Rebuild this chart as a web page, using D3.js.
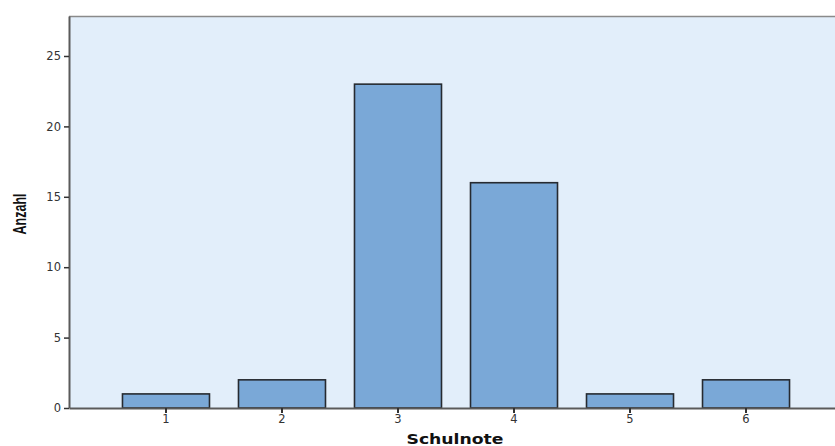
<!DOCTYPE html>
<html>
<head>
<meta charset="utf-8">
<script src="https://cdn.jsdelivr.net/npm/d3@7"></script>
<style>
  html, body { margin: 0; padding: 0; background: #fff; }
  svg { display: block; }
</style>
</head>
<body>
<svg id="chart" width="835" height="446"></svg>
<script>
// Häufigkeit der Schulnoten
const grades = ["1", "2", "3", "4", "5", "6"];
const counts = [1, 2, 23, 16, 1, 2];
const yTicks = [0, 5, 10, 15, 20, 25];

const svg = d3.select("#chart");
const plotLeft = 69, plotTop = 16, plotBottom = 408, plotRight = 843;

const x = d3.scaleBand()
  .domain(grades)
  .range([plotLeft, plotRight])
  .paddingInner(0.25)
  .paddingOuter(0.461);

const y = d3.scaleLinear()
  .domain([0, 27.84])
  .range([plotBottom, plotTop]);

// plot background
svg.append("rect")
  .attr("x", plotLeft).attr("y", plotTop)
  .attr("width", plotRight - plotLeft).attr("height", plotBottom - plotTop)
  .attr("fill", "#e2eefa");

// top frame line
svg.append("line")
  .attr("x1", plotLeft).attr("x2", plotRight)
  .attr("y1", plotTop + 0.5).attr("y2", plotTop + 0.5)
  .attr("stroke", "#8a8a8a").attr("stroke-width", 1.5);

// bars
svg.append("g").selectAll("rect")
  .data(counts)
  .join("rect")
  .attr("x", (d, i) => x(grades[i]))
  .attr("y", d => y(d))
  .attr("width", x.bandwidth())
  .attr("height", d => y(0) - y(d))
  .attr("fill", "#7aa8d7")
  .attr("stroke", "#262a30")
  .attr("stroke-width", 1.6);

// y axis
const yAxis = svg.append("g")
  .attr("transform", `translate(${plotLeft},0)`)
  .call(d3.axisLeft(y).tickValues(yTicks).tickSize(5).tickSizeOuter(0).tickPadding(3));
yAxis.select(".domain").attr("stroke", "#5a5a5a").attr("stroke-width", 2);
yAxis.selectAll(".tick line").attr("stroke", "#333").attr("stroke-width", 1.5);
yAxis.selectAll(".tick text")
  .attr("font-family", "DejaVu Sans, sans-serif")
  .attr("font-size", 11.5)
  .attr("fill", "#333");

// x axis
const xAxis = svg.append("g")
  .attr("transform", `translate(0,${plotBottom})`)
  .call(d3.axisBottom(x).tickSize(5).tickPadding(2).tickSizeOuter(0));
xAxis.select(".domain").attr("stroke", "#5a5a5a").attr("stroke-width", 2);
xAxis.selectAll(".tick line").attr("stroke", "#333").attr("stroke-width", 2);
xAxis.selectAll(".tick text")
  .attr("font-family", "DejaVu Sans, sans-serif")
  .attr("font-size", 11.5)
  .attr("fill", "#333");

// axis titles
svg.append("text")
  .attr("x", 455).attr("y", 444)
  .attr("text-anchor", "middle")
  .attr("font-family", "DejaVu Sans, sans-serif")
  .attr("font-weight", "bold")
  .attr("font-size", 14)
  .attr("textLength", 97)
  .attr("lengthAdjust", "spacingAndGlyphs")
  .attr("fill", "#111")
  .text("Schulnote");

svg.append("text")
  .attr("transform", "translate(26,214) rotate(-90)")
  .attr("text-anchor", "middle")
  .attr("font-family", "Liberation Sans Narrow, Liberation Sans, sans-serif")
  .attr("font-weight", "bold")
  .attr("font-size", 18)
  .attr("textLength", 41)
  .attr("lengthAdjust", "spacingAndGlyphs")
  .attr("fill", "#111")
  .text("Anzahl");
</script>
</body>
</html>
